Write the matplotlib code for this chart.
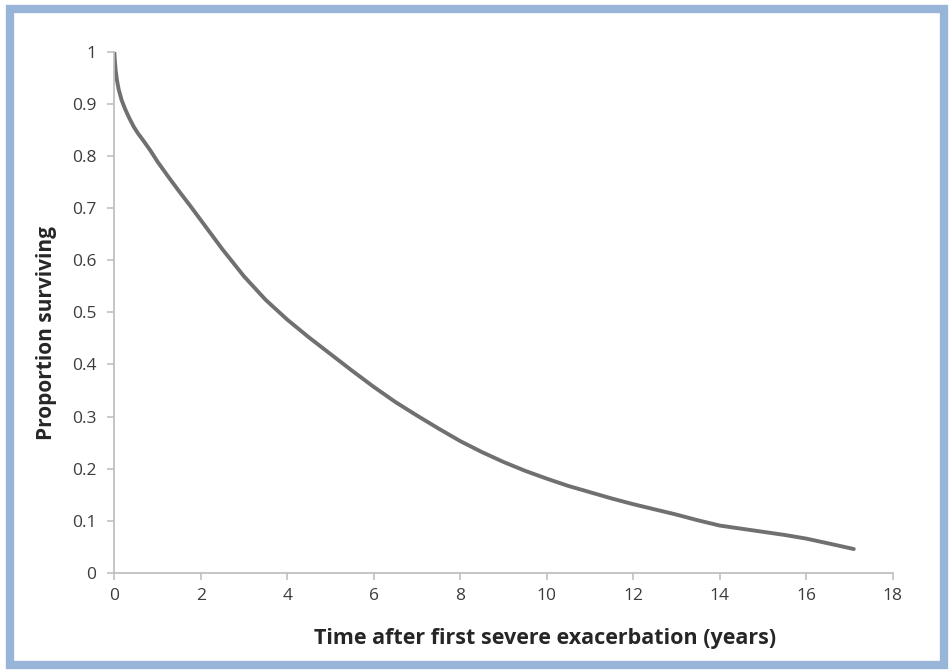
import matplotlib
matplotlib.use("Agg")
import matplotlib.pyplot as plt
from matplotlib.patches import Rectangle

# Data
time_years = [0.0, 0.01, 0.03, 0.06, 0.10, 0.17, 0.25, 0.35, 0.45, 0.55, 0.65, 0.83, 1.0,
              1.25, 1.5, 1.75, 2.0, 2.5, 3.0, 3.5, 4.0, 4.5, 5.0, 5.5, 6.0, 6.5, 7.0, 7.5,
              8.0, 8.5, 9.0, 9.5, 10.0, 10.5, 11.0, 11.5, 12.0, 12.5, 13.0, 13.5, 14.0,
              14.5, 15.0, 15.5, 16.0, 16.5, 17.1]
proportion = [1.0, 0.985, 0.965, 0.946, 0.928, 0.907, 0.890, 0.872, 0.856, 0.843, 0.832, 0.811, 0.789,
              0.760, 0.732, 0.705, 0.677, 0.621, 0.569, 0.524, 0.486, 0.452, 0.420, 0.388, 0.357, 0.328, 0.302, 0.277,
              0.253, 0.232, 0.213, 0.196, 0.181, 0.167, 0.155, 0.143, 0.132, 0.122, 0.112, 0.101, 0.091,
              0.085, 0.079, 0.073, 0.066, 0.057, 0.046]
x_ticks = [0, 2, 4, 6, 8, 10, 12, 14, 16, 18]
y_ticks = [0, 0.1, 0.2, 0.3, 0.4, 0.5, 0.6, 0.7, 0.8, 0.9, 1]
y_tick_labels = ["0", "0.1", "0.2", "0.3", "0.4", "0.5", "0.6", "0.7", "0.8", "0.9", "1"]

FONT = ["Open Sans", "DejaVu Sans"]
W, H = 952, 670
fig = plt.figure(figsize=(W / 100, H / 100), dpi=100)
fig.patch.set_facecolor("white")

# light blue frame
fig.patches.append(Rectangle((10 / W, 1 - 665 / H), 934 / W, 656 / H, transform=fig.transFigure,
                             fill=False, edgecolor="#98b4d8", linewidth=6, zorder=0))

ax = fig.add_axes([114.3 / W, 1 - 573 / H, (892.7 - 114.3) / W, (573 - 51.7) / H])
ax.plot(time_years, proportion, color="#707070", linewidth=2.8, solid_capstyle="round",
        solid_joinstyle="round")

ax.set_xlim(0, 18)
ax.set_ylim(0, 1)
ax.set_xticks(x_ticks)
ax.set_xticklabels([str(v) for v in x_ticks], family=FONT, fontsize=12.5, color="#3c3c3c")
ax.set_yticks(y_ticks)
ax.set_yticklabels(y_tick_labels, family=FONT, fontsize=12.5, color="#3c3c3c")

for s in ["top", "right"]:
    ax.spines[s].set_visible(False)
for s in ["left", "bottom"]:
    ax.spines[s].set_color("#c0c0c0")
    ax.spines[s].set_linewidth(1.3)
ax.tick_params(axis="y", direction="out", length=5, width=1.2, color="#c0c0c0", pad=8)
ax.tick_params(axis="x", direction="out", length=5, width=1.2, color="#c0c0c0", pad=6)

ax.set_xlabel("Time after first severe exacerbation (years)", family=FONT, fontsize=15.5,
              fontweight="bold", color="#262626")
ax.set_ylabel("Proportion surviving", family=FONT, fontsize=15, fontweight="bold",
              color="#262626")
ax.xaxis.set_label_coords(0.553, -0.105)
ax.yaxis.set_label_coords(-0.074, 0.46)

fig.savefig("out.png", dpi=100, facecolor="white")
